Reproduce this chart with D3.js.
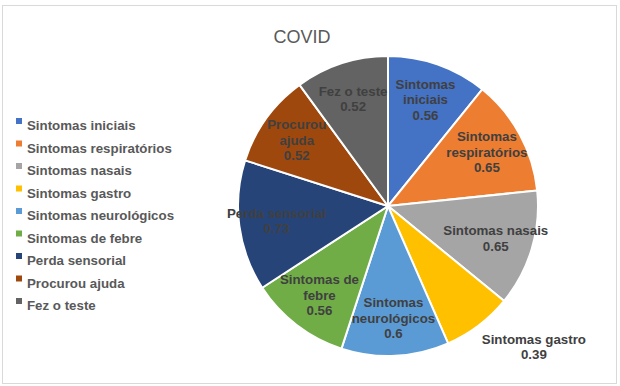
<!DOCTYPE html>
<head>
  <meta charset="utf-8">
  <title>COVID pie</title>
  <style>
    body { margin: 0; background: #ffffff; }
    text { font-family: "Liberation Sans", Arial, sans-serif; }
  </style>
</head>
<body>
  <script src="https://cdn.jsdelivr.net/npm/d3@7"></script>
  <script>
    // chart data
    var categories = ["Sintomas iniciais", "Sintomas respiratórios", "Sintomas nasais", "Sintomas gastro",
      "Sintomas neurológicos", "Sintomas de febre", "Perda sensorial", "Procurou ajuda", "Fez o teste"];
    var values = [0.56, 0.65, 0.65, 0.39, 0.6, 0.56, 0.73, 0.52, 0.52];
    // how each slice label is wrapped
    var labelLines = [["Sintomas", "iniciais"], ["Sintomas", "respiratórios"], ["Sintomas nasais"], ["Sintomas gastro"],
      ["Sintomas", "neurológicos"], ["Sintomas de", "febre"], ["Perda sensorial"], ["Procurou", "ajuda"], ["Fez o teste"]];
    var colors = ["#4472C4", "#ED7D31", "#A5A5A5", "#FFC000", "#5B9BD5", "#70AD47", "#264478", "#9E480E", "#636363"];

    var width = 620, height = 386;
    var cx = 388, cy = 206, radius = 150;

    var svg = d3.select("body").append("svg")
      .attr("width", width)
      .attr("height", height);

    // chart border
    svg.append("rect")
      .attr("x", 2.5).attr("y", 5.5)
      .attr("width", 614).attr("height", 378)
      .attr("fill", "#fff")
      .attr("stroke", "#d9d9d9")
      .attr("stroke-width", 1);

    svg.append("text")
      .attr("x", 302).attr("y", 43)
      .attr("text-anchor", "middle")
      .style("font-size", "18px")
      .style("fill", "#595959")
      .text("COVID");

    var data = categories.map(function (c, i) {
      return { name: c, value: values[i], lines: labelLines[i], color: colors[i] };
    });

    var pie = d3.pie().sort(null).value(function (d) { return d.value; });
    var arc = d3.arc().innerRadius(0).outerRadius(radius);
    var labelArc = d3.arc().innerRadius(radius * 0.75).outerRadius(radius * 0.75);
    var outerArc = d3.arc().innerRadius(radius + 12).outerRadius(radius + 12);

    var g = svg.append("g").attr("transform", "translate(" + cx + "," + cy + ")");
    var arcs = pie(data);

    g.selectAll("path.slice")
      .data(arcs)
      .enter().append("path")
      .attr("class", "slice")
      .attr("d", arc)
      .attr("fill", function (d) { return d.data.color; })
      .attr("stroke", "#fff")
      .attr("stroke-width", 2);

    // small slices get their label outside the pie
    var lineH = 15.5;
    var labels = g.selectAll("text.lbl")
      .data(arcs)
      .enter().append("text")
      .attr("class", "lbl")
      .attr("text-anchor", "middle")
      .style("font-size", "13.3px")
      .style("font-weight", "bold")
      .style("fill", "#404040")
      .attr("transform", function (d) {
        var outside = d.data.value < 0.45;
        var p = outside ? outerArc.centroid(d) : labelArc.centroid(d);
        if (outside) p = [p[0] + 48, p[1] + 12];
        var n = d.data.lines.length + 1;
        return "translate(" + p[0] + "," + (p[1] - (n - 1) * lineH / 2 + 4.5) + ")";
      });

    labels.each(function (d) {
      var t = d3.select(this);
      d.data.lines.concat([String(d.data.value)]).forEach(function (s, i) {
        t.append("tspan").attr("x", 0).attr("dy", i === 0 ? 0 : lineH).text(s);
      });
    });

    // legend
    var legend = svg.append("g").attr("transform", "translate(16,125)");
    var rows = legend.selectAll("g")
      .data(data)
      .enter().append("g")
      .attr("transform", function (d, i) { return "translate(0," + i * 22.5 + ")"; });

    rows.append("rect")
      .attr("x", 0).attr("y", -7)
      .attr("width", 6).attr("height", 6)
      .attr("fill", function (d) { return d.color; });

    rows.append("text")
      .attr("x", 11).attr("y", 5)
      .style("font-size", "13.3px")
      .style("font-weight", "bold")
      .style("fill", "#595959")
      .text(function (d) { return d.name; });
  </script>
</body>
